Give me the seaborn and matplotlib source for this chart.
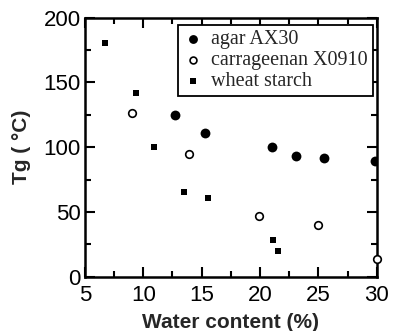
import matplotlib
matplotlib.use("Agg")
import matplotlib.pyplot as plt
import seaborn as sns
import pandas as pd
from matplotlib.ticker import MultipleLocator

agar_x = [12.7, 15.3, 21.0, 23.1, 25.5, 29.8]
agar_y = [125, 111, 100, 93, 91.5, 89]
carr_x = [9.0, 13.9, 19.9, 25.0, 30.0]
carr_y = [126, 95, 47, 40, 14]
wheat_x = [6.7, 9.4, 10.9, 13.5, 15.5, 21.1, 21.5]
wheat_y = [180, 142, 100, 65, 61, 28, 19.5]

labels = ["agar AX30", "carrageenan X0910", "wheat starch"]

sns.set_theme(style="ticks")
plt.rcParams["font.family"] = ["Liberation Sans", "DejaVu Sans"]

fig = plt.figure(figsize=(3.93, 3.31), dpi=100)
ax = fig.add_axes([0.216, 0.164, 0.743, 0.783])

df_a = pd.DataFrame({"x": agar_x, "y": agar_y})
df_c = pd.DataFrame({"x": carr_x, "y": carr_y})
df_w = pd.DataFrame({"x": wheat_x, "y": wheat_y})

sns.scatterplot(data=df_a, x="x", y="y", ax=ax, marker="o", s=50,
                color="black", edgecolor="black", linewidth=0, label=labels[0], zorder=3)
sns.scatterplot(data=df_c, x="x", y="y", ax=ax, marker="o", s=30,
                facecolor="white", edgecolor="black", linewidth=1.2, label=labels[1], zorder=3, clip_on=False)
sns.scatterplot(data=df_w, x="x", y="y", ax=ax, marker="s", s=23,
                color="black", edgecolor="black", linewidth=0, label=labels[2], zorder=3)

ax.set_xlim(5, 30)
ax.set_ylim(0, 200)
ax.xaxis.set_major_locator(MultipleLocator(5))
ax.xaxis.set_minor_locator(MultipleLocator(2.5))
ax.yaxis.set_major_locator(MultipleLocator(50))
ax.yaxis.set_minor_locator(MultipleLocator(25))
ax.tick_params(which="both", direction="in", top=True, right=True, width=1.5,
               color="black", labelsize=16, labelcolor="black", pad=3)
ax.tick_params(axis="x", which="both", pad=6)
ax.tick_params(which="major", length=7)
ax.tick_params(which="minor", length=4.5)
for sp in ax.spines.values():
    sp.set_linewidth(1.8)
    sp.set_color("black")
    sp.set_visible(True)

ax.set_xlabel("Water content (%)", fontsize=15, fontweight="bold", labelpad=5)
ax.set_ylabel("Tg ( °C)", fontsize=15, fontweight="bold", labelpad=9)

leg = ax.legend(loc="upper right", bbox_to_anchor=(0.986, 0.972), frameon=True,
                fancybox=False, edgecolor="black", framealpha=1,
                prop={"family": "Liberation Serif", "size": 14.5},
                handletextpad=0.4, labelspacing=0.1, borderpad=0.25,
                handlelength=1.0, borderaxespad=0, markerscale=0.9)
leg.get_frame().set_linewidth(1.3)

fig.savefig("out.png", dpi=100)
